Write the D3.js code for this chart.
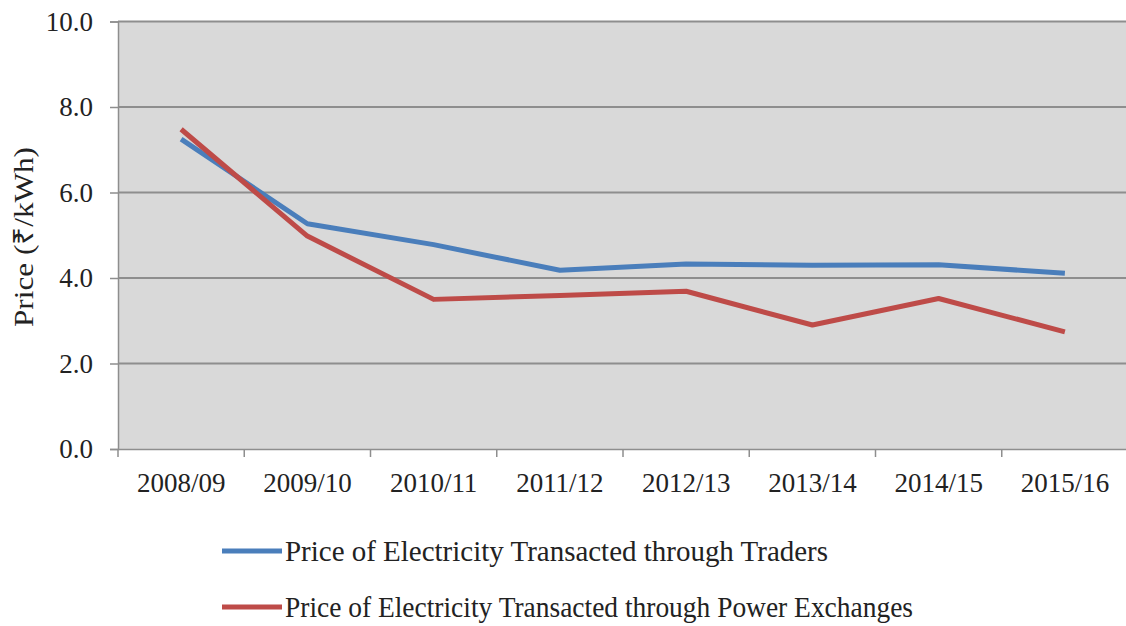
<!DOCTYPE html>
<html>
<head>
<meta charset="utf-8">
<script src="https://cdn.jsdelivr.net/npm/d3@7"></script>
<style>
  html, body { margin: 0; padding: 0; background: #fff; }
  svg { display: block; }
  text { font-family: "Liberation Serif", "Times New Roman", serif; fill: #222; }
</style>
</head>
<body>
<svg id="chart" width="1126" height="626"></svg>
<script>
// Financial years on the category axis
const years = ["2008/09", "2009/10", "2010/11", "2011/12", "2012/13", "2013/14", "2014/15", "2015/16"];
// Average price (₹/kWh) of electricity sold through traders
const tradersPrice = [7.25, 5.27, 4.78, 4.18, 4.33, 4.30, 4.31, 4.11];
// Average price (₹/kWh) of electricity sold through power exchanges
const exchangesPrice = [7.48, 4.98, 3.50, 3.59, 3.69, 2.90, 3.52, 2.74];
// Value-axis ticks
const yTicks = [0, 2, 4, 6, 8, 10];

const seriesNames = [
  "Price of Electricity Transacted through Traders",
  "Price of Electricity Transacted through Power Exchanges"
];
const seriesColors = ["#4a7ebb", "#be4b48"];
const seriesValues = [tradersPrice, exchangesPrice];
const legendTextWidths = [543, 628];

const svg = d3.select("#chart");
const plot = { left: 118, right: 1128, top: 21.5, bottom: 449 };

const x = d3.scaleBand().domain(years).range([plot.left, plot.right]).padding(0);
const y = d3.scaleLinear().domain([0, 10]).range([plot.bottom, plot.top]);

// Plot background
svg.append("rect")
  .attr("x", plot.left).attr("y", plot.top)
  .attr("width", plot.right - plot.left).attr("height", plot.bottom - plot.top)
  .attr("fill", "#d9d9d9");

// Horizontal gridlines
svg.append("g")
  .selectAll("line")
  .data(yTicks.filter(d => d > 0))
  .join("line")
  .attr("x1", plot.left).attr("x2", plot.right)
  .attr("y1", d => y(d)).attr("y2", d => y(d))
  .attr("stroke", "#8e8e8e").attr("stroke-width", 2);

// Value axis
const yAxis = svg.append("g")
  .attr("transform", `translate(${plot.left},0)`)
  .call(d3.axisLeft(y).tickValues(yTicks).tickFormat(d3.format(".1f")).tickSize(8).tickPadding(17));
yAxis.select(".domain").attr("stroke", "#8e8e8e").attr("stroke-width", 1.5);
yAxis.selectAll(".tick line").attr("stroke", "#8e8e8e").attr("stroke-width", 1.5);
yAxis.selectAll(".tick text")
  .attr("font-size", 27).attr("font-family", "Liberation Serif, serif").attr("fill", "#222");

// Category axis with ticks between categories
const xAxis = svg.append("g")
  .attr("transform", `translate(0,${plot.bottom})`)
  .call(d3.axisBottom(x).tickSize(0).tickPadding(24));
xAxis.select(".domain").attr("stroke", "#8e8e8e").attr("stroke-width", 1.5);
xAxis.selectAll(".tick text")
  .attr("font-size", 27).attr("font-family", "Liberation Serif, serif").attr("fill", "#222");
xAxis.selectAll(".sep")
  .data(years.concat([null]))
  .join("line")
  .attr("class", "sep")
  .attr("x1", (d, i) => plot.left + i * x.bandwidth())
  .attr("x2", (d, i) => plot.left + i * x.bandwidth())
  .attr("y1", 0).attr("y2", 8)
  .attr("stroke", "#8e8e8e").attr("stroke-width", 1.5);

// Series lines
const line = d3.line()
  .x((d, i) => x(years[i]) + x.bandwidth() / 2)
  .y(d => y(d));

seriesValues.forEach((vals, k) => {
  svg.append("path")
    .datum(vals)
    .attr("d", line)
    .attr("fill", "none")
    .attr("stroke", seriesColors[k])
    .attr("stroke-width", 5)
    .attr("stroke-linejoin", "round");
});

// Value-axis title
svg.append("text")
  .attr("transform", "translate(33,237) rotate(-90)")
  .attr("text-anchor", "middle")
  .attr("font-size", 28)
  .attr("textLength", 180)
  .attr("lengthAdjust", "spacingAndGlyphs")
  .text("Price (₹/kWh)");

// Legend
const legend = svg.append("g");
seriesNames.forEach((name, k) => {
  const ly = 551 + k * 56;
  legend.append("line")
    .attr("x1", 222).attr("x2", 282)
    .attr("y1", ly).attr("y2", ly)
    .attr("stroke", seriesColors[k]).attr("stroke-width", 5);
  legend.append("text")
    .attr("x", 285).attr("y", ly + 10)
    .attr("font-size", 29)
    .attr("textLength", legendTextWidths[k])
    .attr("lengthAdjust", "spacingAndGlyphs")
    .text(name);
});
</script>
</body>
</html>
